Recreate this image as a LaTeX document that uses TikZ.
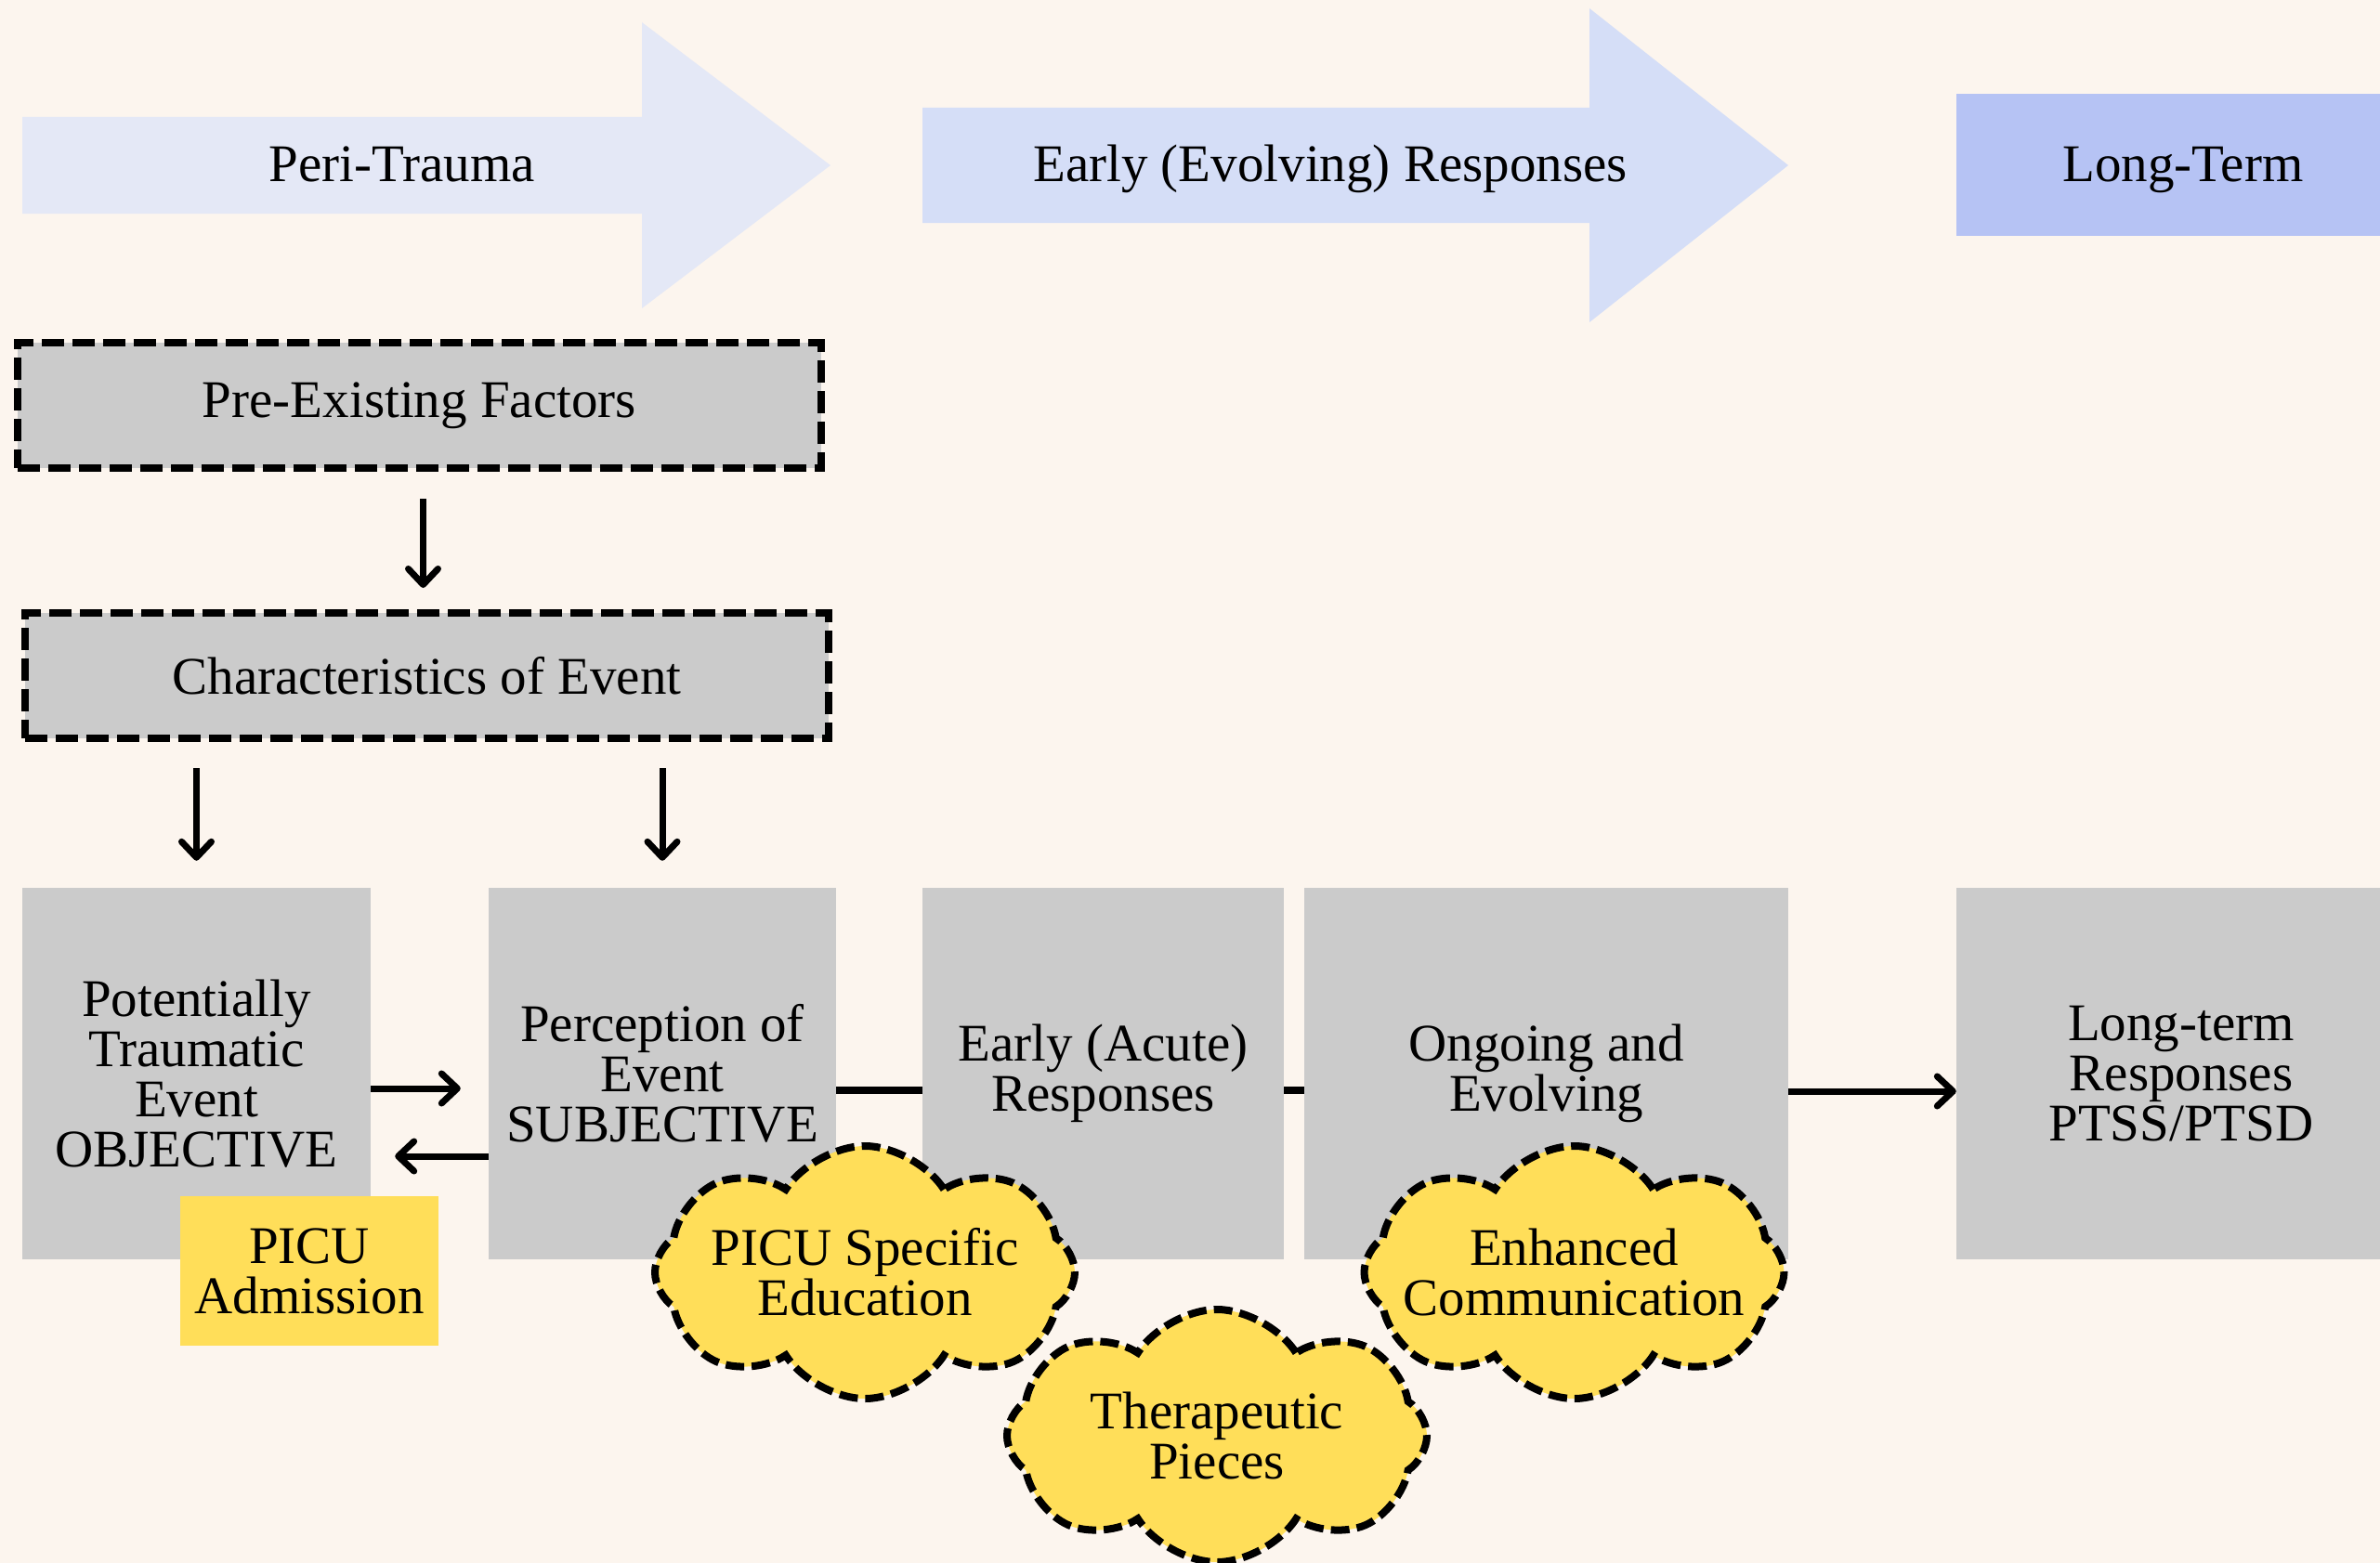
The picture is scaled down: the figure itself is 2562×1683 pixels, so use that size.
\documentclass[tikz,border=0pt]{standalone}
\usepackage{fontspec}
\setmainfont{Liberation Serif}
\usetikzlibrary{arrows.meta,shapes.symbols,calc}

\definecolor{bg}{HTML}{FCF5EE}
\definecolor{boxgray}{HTML}{CBCBCB}
\definecolor{sun}{HTML}{FFDE59}
\definecolor{periblue}{HTML}{E4E8F6}
\definecolor{earlyblue}{HTML}{D5DEF7}
\definecolor{longblue}{HTML}{B6C3F4}

\tikzset{
  base/.style={font=\fontsize{57}{54}\selectfont, text=black, align=center, inner sep=0pt},
  banner/.style={base, anchor=base},
  stage/.style={base, rectangle, fill=boxgray, minimum height=400pt},
  dashbox/.style={base, rectangle, fill=boxgray, draw=black, line width=8pt,
    dash pattern=on 24pt off 9pt, minimum width=865pt, minimum height=135pt},
  puff/.style={cloud, cloud puffs=8, cloud puff arc=115, cloud ignores aspect,
    inner sep=0pt, fill=sun, draw=black, line width=8pt, dash pattern=on 20pt off 8pt,
    minimum width=452pt, minimum height=272pt},
  conn/.style={line width=8pt},
  arr/.style={line width=7pt, -{Straight Barb[length=17pt,width=32pt,line cap=round,line join=round]}}
}

\begin{document}
\begin{tikzpicture}[x=1pt,y=-1pt]
\fill[bg] (0,0) rectangle (2562,1683);
\useasboundingbox (0,0) rectangle (2562,1683);

% phase banners
\fill[periblue] (24,126) -- (691,126) -- (691,24) -- (894,178) -- (691,332) -- (691,230) -- (24,230) -- cycle;
\node[banner] (peri) at (433,195) {Peri-Trauma};
\fill[earlyblue] (993,116) -- (1711,116) -- (1711,9) -- (1925,178) -- (1711,347) -- (1711,240) -- (993,240) -- cycle;
\node[banner] (early) at (1432,195) {Early (Evolving) Responses};
\fill[longblue] (2106,101) rectangle (2600,254);
\node[banner] (long) at (2350,195) {Long-Term};

% contributing factors
\node[dashbox] (pre) at (451.5,436.5) {Pre-Existing Factors};
\node[dashbox] (char) at (459.5,727.5) {Characteristics of Event};

% stages
\node[stage, minimum width=375pt] (b1) at (211.5,1156) {Potentially\\Traumatic\\Event\\OBJECTIVE};
\node[stage, minimum width=374pt] (b2) at (713,1156) {Perception of\\Event\\SUBJECTIVE};
\node[stage, minimum width=389pt] (b3) at (1187.5,1156) {Early (Acute)\\Responses};
\node[stage, minimum width=521pt] (b4) at (1664.5,1156) {Ongoing and\\Evolving};
\node[stage, minimum width=484pt] (b5) at (2348,1156) {Long-term\\Responses\\PTSS/PTSD};

% connectors
\draw[arr, shorten <=29pt, shorten >=23pt] ([xshift=4pt]pre.south) -- ([xshift=4pt]pre.south |- char.north);
\draw[arr, shorten <=28pt, shorten >=29pt] (char.south -| b1.north) -- (b1.north);
\draw[arr, shorten <=28pt, shorten >=29pt] (char.south -| b2.north) -- (b2.north);
\draw[arr, shorten >=30pt] ($(b1.east)+(0,16)$) -- ($(b2.west)+(0,16)$);
\draw[arr, shorten >=26pt] ($(b2.west)+(0,89)$) -- ($(b1.east)+(0,89)$);
\draw[conn] ($(b2.east)+(0,18)$) -- ($(b3.west)+(0,18)$);
\draw[conn] ($(b3.east)+(0,18)$) -- ($(b4.west)+(0,18)$);
\draw[arr] ($(b4.east)+(0,19)$) -- ($(b5.west)+(0,19)$);

% setting and interventions
\node[base, rectangle, fill=sun, minimum width=278pt, minimum height=161pt] (picu) at (333,1368.5) {PICU\\Admission};
\node[puff] (edu) at (931,1370) {};
\node[base] (edu-text) at (edu.center) {PICU Specific\\Education};
\node[puff] (ther) at (1310,1546) {};
\node[base] (ther-text) at (ther.center) {Therapeutic\\Pieces};
\node[puff] (comm) at (1694.5,1370) {};
\node[base] (comm-text) at (comm.center) {Enhanced\\Communication};
\end{tikzpicture}
\end{document}
